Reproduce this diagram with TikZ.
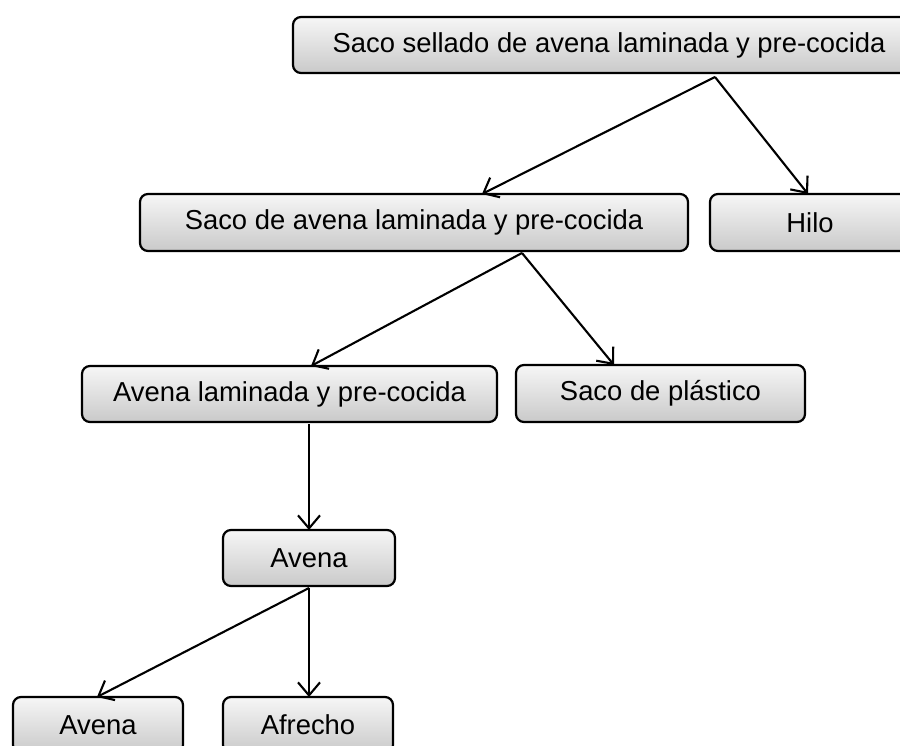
\documentclass[tikz,border=0pt]{standalone}
\usepackage{fontspec}
\setmainfont{Liberation Sans}
\usetikzlibrary{arrows.meta}
\begin{document}
\begin{tikzpicture}[x=1pt,y=-1pt,
  box/.style={rectangle, rounded corners=8pt, draw=black, line width=2.2pt,
    top color=gray!7, bottom color=gray!42, inner sep=0pt,
    font=\fontsize{27.4}{32}\selectfont},
  arr/.style={line width=2.1pt, -{Straight Barb[length=13pt,width=22pt,line width=2.1pt]}}]
\useasboundingbox (0,0) rectangle (900,746);
\clip (0,0) rectangle (900,746);
\node[box, minimum width=632pt, minimum height=56pt] (b1) at (609,45) {Saco sellado de avena laminada y pre-cocida};
\node[box, minimum width=548pt, minimum height=57pt] (b2) at (414,222.5) {Saco de avena laminada y pre-cocida};
\node[box, minimum width=200pt, minimum height=57pt] (hilo) at (810,222.5) {Hilo};
\node[box, minimum width=415pt, minimum height=56pt] (b3) at (289.5,394) {Avena laminada y pre-cocida};
\node[box, minimum width=289pt, minimum height=57pt] (plast) at (660.5,393.5) {Saco de plástico};
\node[box, minimum width=172pt, minimum height=56pt] (av) at (309,558) {Avena};
\node[box, minimum width=170pt, minimum height=56pt] (av2) at (98,725) {Avena};
\node[box, minimum width=170pt, minimum height=56pt] (afr) at (308,725) {Afrecho};
\coordinate (s1) at (715,77);
\coordinate (t2) at (482,194);
\coordinate (th) at (808,194);
\coordinate (s2) at (522,253);
\coordinate (t3) at (311,366);
\coordinate (tp) at (614,365);
\coordinate (s3) at (309,424);
\coordinate (ta) at (309,530);
\coordinate (s4) at (309,588);
\coordinate (ta2) at (97,697);
\coordinate (taf) at (309,697);
\draw[arr] (s1) -- (t2);
\draw[arr] (s1) -- (th);
\draw[arr] (s2) -- (t3);
\draw[arr] (s2) -- (tp);
\draw[arr] (s3) -- (ta);
\draw[arr] (s4) -- (ta2);
\draw[arr] (s4) -- (taf);
\end{tikzpicture}
\end{document}
